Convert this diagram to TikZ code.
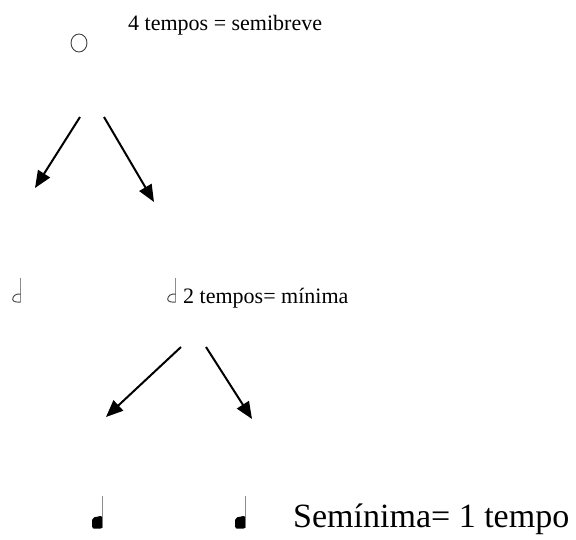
\documentclass[tikz,border=0pt]{standalone}
\usepackage{fontspec}
\setmainfont{Liberation Serif}
\usetikzlibrary{arrows.meta,shapes.geometric}
\tikzset{
  lbl/.style={anchor=base west, inner sep=0pt, font=\fontsize{22}{26}\selectfont},
  biglbl/.style={anchor=base west, inner sep=0pt, font=\fontsize{34}{40}\selectfont},
  conn/.style={line width=2pt, -{Triangle[length=17pt,width=14pt]}},
  stem/.style={draw=black!45, line width=1.1pt},
  openhead/.style={draw=black!75, line width=0.9pt},
}
\begin{document}
\begin{tikzpicture}[x=1pt,y=-1pt]
\useasboundingbox (0,0) rectangle (576,540);
% whole note
\node (whole) [draw=black!75, line width=0.9pt, ellipse, minimum width=16pt, minimum height=18pt, inner sep=0pt] at (79,43) {};
\node (t1) [lbl] at (128,31) {4 tempos = semibreve};
% arrows from whole note
\coordinate (a1s) at (80,117);
\coordinate (a1e) at (35,188);
\coordinate (a2s) at (104,117);
\coordinate (a2e) at (154,202);
\draw[conn] (a1s) -- (a1e);
\draw[conn] (a2s) -- (a2e);
% half notes
\node (h1) [inner sep=0pt, minimum width=9pt, minimum height=24pt] at (16,290) {};
\draw[stem] (h1.north east) -- (h1.south east);
\draw[openhead] ([yshift=8pt]h1.south east) .. controls ([xshift=-5pt,yshift=9pt]h1.south east) and ([xshift=-8pt,yshift=6pt]h1.south east) .. ([xshift=-8pt,yshift=3pt]h1.south east) .. controls ([xshift=-8pt,yshift=0pt]h1.south east) and ([xshift=-3pt,yshift=0pt]h1.south east) .. (h1.south east);
\node (h2) [inner sep=0pt, minimum width=9pt, minimum height=24pt] at (171,290) {};
\draw[stem] (h2.north east) -- (h2.south east);
\draw[openhead] ([yshift=8pt]h2.south east) .. controls ([xshift=-5pt,yshift=9pt]h2.south east) and ([xshift=-8pt,yshift=6pt]h2.south east) .. ([xshift=-8pt,yshift=3pt]h2.south east) .. controls ([xshift=-8pt,yshift=0pt]h2.south east) and ([xshift=-3pt,yshift=0pt]h2.south east) .. (h2.south east);
\node (t2) [lbl] at (183,304) {2 tempos= mínima};
% arrows from half note
\coordinate (b1s) at (181,347);
\coordinate (b1e) at (106,417);
\coordinate (b2s) at (206,347);
\coordinate (b2e) at (252,419);
\draw[conn] (b1s) -- (b1e);
\draw[conn] (b2s) -- (b2e);
% quarter notes
\node (q1) [inner sep=0pt, minimum width=10pt, minimum height=31pt] at (97,512) {};
\draw[stem] (q1.north east) -- (q1.south east);
\fill[black, rounded corners=2pt] ([yshift=-1pt]q1.south east) -- ([yshift=12pt]q1.south east) -- ([xshift=-10pt,yshift=10pt]q1.south east) -- ([xshift=-10pt,yshift=-1pt]q1.south east) -- cycle;
\node (q2) [inner sep=0pt, minimum width=10pt, minimum height=31pt] at (240,512) {};
\draw[stem] (q2.north east) -- (q2.south east);
\fill[black, rounded corners=2pt] ([yshift=-1pt]q2.south east) -- ([yshift=12pt]q2.south east) -- ([xshift=-10pt,yshift=10pt]q2.south east) -- ([xshift=-10pt,yshift=-1pt]q2.south east) -- cycle;
\node (t3) [biglbl] at (293,527) {Semínima= 1 tempo};
\end{tikzpicture}
\end{document}
